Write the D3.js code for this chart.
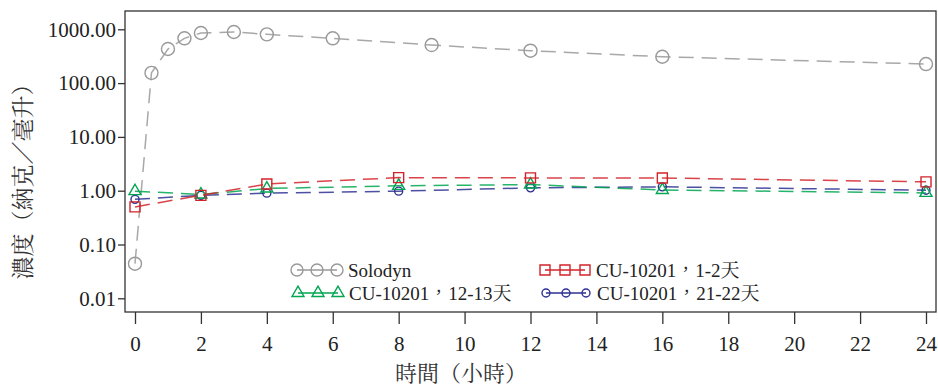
<!DOCTYPE html>
<html>
<head>
<meta charset="utf-8">
<script src="https://cdn.jsdelivr.net/npm/d3@7"></script>
</head>
<body style="margin:0;background:#fff">
<div id="chart"></div>
<script>
// values
const hoursSolodyn = [0, 0.5, 1, 1.5, 2, 3, 4, 6, 9, 12, 16, 24];
const solodyn = [0.044, 155, 430, 680, 853, 890, 806, 680, 510, 400, 309, 226];

const hoursCU = [0, 2, 4, 8, 12, 16, 24];
const cu1to2 = [0.50, 0.82, 1.33, 1.75, 1.73, 1.72, 1.46];
const cu12to13 = [0.98, 0.85, 1.10, 1.23, 1.30, 1.03, 0.91];
const cu21to22 = [0.69, 0.82, 0.90, 0.98, 1.13, 1.18, 1.02];

const xTicks = [0, 2, 4, 6, 8, 10, 12, 14, 16, 18, 20, 22, 24];
const yTicks = [0.01, 0.1, 1, 10, 100, 1000];

const xTitle = '時間（小時）';
const yTitle = '濃度（納克／毫升）';

const width = 938;
const height = 387;
const box = { left: 125, top: 11, right: 936, bottom: 312 };
const latinFont = 'Liberation Serif';
const cjkFont = 'Noto Serif CJK TC';

const series = [
    { name: 'Solodyn', x: hoursSolodyn, y: solodyn, color: '#999999', shape: 'circle', r: 6.5 },
    { name: 'CU-10201，21-22天', x: hoursCU, y: cu21to22, color: '#2e3192', shape: 'circle', r: 4 },
    { name: 'CU-10201，12-13天', x: hoursCU, y: cu12to13, color: '#00a651', shape: 'triangle', r: 6 },
    { name: 'CU-10201，1-2天', x: hoursCU, y: cu1to2, color: '#d2232a', shape: 'square', r: 5 },
];

// legend placement: [series index, x of first marker, y]
const legendItems = [
    [0, 297, 270],
    [3, 545, 270],
    [2, 298, 293],
    [1, 546, 293],
];

const svg = d3.select('#chart').append('svg')
    .attr('width', width)
    .attr('height', height)
    .style('display', 'block');

const x = d3.scaleLinear().domain([0, 24]).range([135, 926]);
const y = d3.scaleLog().domain([0.01, 1000]).range([298.3, 29.3]);

// frame
svg.append('rect')
    .attr('x', box.left)
    .attr('y', box.top)
    .attr('width', box.right - box.left)
    .attr('height', box.bottom - box.top)
    .attr('fill', 'none')
    .attr('stroke', '#333')
    .attr('stroke-width', 1.3);

// axes
const yAxis = svg.append('g')
    .attr('transform', `translate(${box.left},0)`)
    .call(d3.axisLeft(y).tickValues(yTicks).tickFormat(d3.format('.2f')).tickSize(7).tickSizeOuter(0).tickPadding(2));
yAxis.select('.domain').remove();
yAxis.attr('font-family', latinFont).attr('font-size', 21);
yAxis.selectAll('.tick line').attr('stroke', '#333').attr('stroke-width', 1.3);
yAxis.selectAll('.tick text').attr('fill', '#222');

const xAxis = svg.append('g')
    .attr('transform', `translate(0,${box.bottom})`)
    .call(d3.axisBottom(x).tickValues(xTicks).tickFormat(d3.format('d')).tickSize(12).tickSizeOuter(0).tickPadding(12));
xAxis.select('.domain').remove();
xAxis.attr('font-family', latinFont).attr('font-size', 21);
xAxis.selectAll('.tick line').attr('stroke', '#333').attr('stroke-width', 1.3);
xAxis.selectAll('.tick text').attr('fill', '#222');

// axis titles
svg.append('text')
    .attr('x', 461)
    .attr('y', 381)
    .attr('text-anchor', 'middle')
    .attr('font-family', cjkFont)
    .attr('font-size', 22)
    .attr('fill', '#333')
    .text(xTitle);

svg.append('text')
    .attr('transform', 'translate(31,176) rotate(-90)')
    .attr('text-anchor', 'middle')
    .attr('font-family', cjkFont)
    .attr('font-size', 23)
    .attr('fill', '#333')
    .text(yTitle);

function marker(sel, s, cx, cy) {
    if (s.shape === 'circle') {
        sel.append('circle')
            .attr('cx', cx).attr('cy', cy).attr('r', s.r)
            .attr('fill', 'none').attr('stroke', s.color).attr('stroke-width', 1.4);
    } else {
        const sym = s.shape === 'square' ? d3.symbolSquare : d3.symbolTriangle;
        const size = s.shape === 'square' ? (2 * s.r) ** 2 : Math.sqrt(3) / 4 * (2 * s.r) ** 2;
        sel.append('path')
            .attr('transform', `translate(${cx},${cy})`)
            .attr('d', d3.symbol().type(sym).size(size)())
            .attr('fill', 'none').attr('stroke', s.color).attr('stroke-width', 1.4);
    }
}

const line = d3.line()
    .x(d => x(d[0]))
    .y(d => y(d[1]));

series.forEach(s => {
    const pts = s.x.map((t, i) => [t, s.y[i]]);
    const g = svg.append('g');
    g.append('path')
        .attr('d', line(pts))
        .attr('fill', 'none')
        .attr('stroke', s.color)
        .attr('stroke-opacity', 0.85)
        .attr('stroke-width', 1.5)
        .attr('stroke-dasharray', '15,8');
    pts.forEach(p => marker(g, s, x(p[0]), y(p[1])));
});

// legend: latin runs in the serif font, CJK runs in the CJK serif
legendItems.forEach(([idx, lx, ly]) => {
    const s = series[idx];
    const g = svg.append('g');
    g.append('line')
        .attr('x1', lx).attr('x2', lx + 40)
        .attr('y1', ly).attr('y2', ly)
        .attr('stroke', s.color).attr('stroke-width', 1.4);
    [0, 20, 40].forEach(dx => {
        const small = Object.assign({}, s, { r: s.shape === 'circle' && s.r > 5 ? 6 : s.r });
        marker(g, small, lx + dx, ly);
    });
    const t = g.append('text')
        .attr('x', lx + 51)
        .attr('y', ly + 6.5)
        .attr('font-size', 19)
        .attr('fill', '#222');
    s.name.split(/([，天])/).filter(p => p).forEach(part => {
        t.append('tspan')
            .attr('font-family', /[，天]/.test(part) ? cjkFont : latinFont)
            .text(part);
    });
});
</script>
</body>
</html>
